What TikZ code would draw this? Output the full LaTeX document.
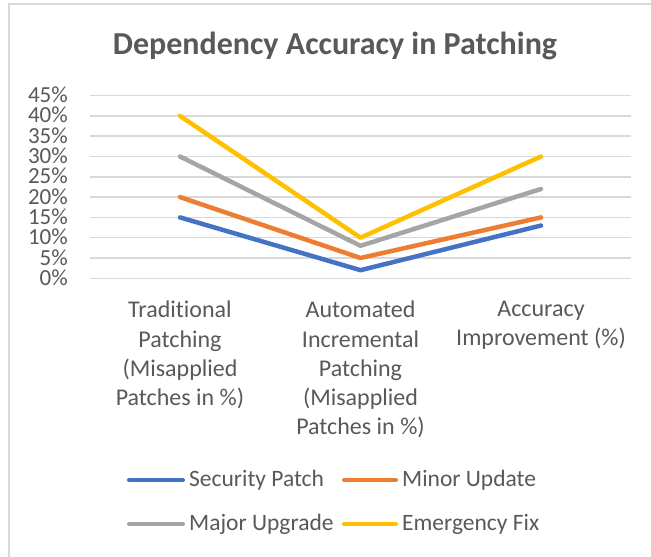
\documentclass[tikz,border=0pt]{standalone}
\usepackage{fontspec}
\setmainfont[Ligatures=NoCommon]{Carlito}
\definecolor{txt}{HTML}{595959}
\definecolor{gridc}{HTML}{D9D9D9}
\definecolor{sblue}{HTML}{4472C4}
\definecolor{sorange}{HTML}{ED7D31}
\definecolor{sgray}{HTML}{A5A5A5}
\definecolor{sgold}{HTML}{FFC000}
\begin{document}
\begin{tikzpicture}[x=1pt,y=-1pt,
  gridline/.style={gridc,line width=1.5pt},
  framel/.style={gridc,line width=2pt},
  ylab/.style={anchor=east,inner sep=0pt,text height=15pt,text depth=1pt,text=txt,font=\fontsize{23}{27}\selectfont},
  catlab/.style={anchor=north,inner sep=0pt,align=center,text=txt,font=\fontsize{24}{29.2}\selectfont},
  leglab/.style={anchor=west,inner sep=0pt,text=txt,font=\fontsize{23.5}{27}\selectfont},
  series/.style={line width=4.5pt,line cap=round,line join=round},
  legline/.style={line width=4pt,line cap=round},
  titlestyle/.style={inner sep=0pt,text=txt,font=\fontsize{32}{38}\selectfont\bfseries}]
\useasboundingbox (0,0) rectangle (651,557);
\fill[white] (0,0) rectangle (651,557);
% frame
\draw[framel] (9,557) -- (9,4) -- (651,4);
% title
\node[titlestyle] (title) at (335,46) {Dependency Accuracy in Patching};
% grid and y labels
\foreach \v in {0,5,...,45}{
  \draw[gridline] (90,{278.3-4.06*\v}) -- (631,{278.3-4.06*\v});
  \node[ylab] (y\v) at (68,{278.3-4.06*\v}) {\v\%};
}
% data points
\foreach \n/\a/\b/\c in {s/15/2/13, m/20/5/15, j/30/8/22, e/40/10/30}{
  \coordinate (\n1) at (180,{278.3-4.06*\a});
  \coordinate (\n2) at (360.5,{278.3-4.06*\b});
  \coordinate (\n3) at (541,{278.3-4.06*\c});
}
\draw[series,sblue] (s1) -- (s2) -- (s3);
\draw[series,sorange] (m1) -- (m2) -- (m3);
\draw[series,sgray] (j1) -- (j2) -- (j3);
\draw[series,sgold] (e1) -- (e2) -- (e3);
% category labels
\node[catlab] (c1) at (180,301) {Traditional\\Patching\\(Misapplied\\Patches in \%)};
\node[catlab] (c2) at (360.5,301) {Automated\\Incremental\\Patching\\(Misapplied\\Patches in \%)};
\node[catlab] (c3) at (541,301) {Accuracy\\Improvement (\%)};
% legend
\coordinate (l1a) at (129,480); \coordinate (l1b) at (183,480);
\coordinate (l2a) at (344,480); \coordinate (l2b) at (396,480);
\coordinate (l3a) at (129,524); \coordinate (l3b) at (183,524);
\coordinate (l4a) at (344,524); \coordinate (l4b) at (396,524);
\draw[legline,sblue] (l1a) -- (l1b);
\draw[legline,sorange] (l2a) -- (l2b);
\draw[legline,sgray] (l3a) -- (l3b);
\draw[legline,sgold] (l4a) -- (l4b);
\node[leglab] (t1) at (189,480) {Security Patch};
\node[leglab] (t2) at (402,480) {Minor Update};
\node[leglab] (t3) at (189,524) {Major Upgrade};
\node[leglab] (t4) at (402,524) {Emergency Fix};
\end{tikzpicture}
\end{document}
